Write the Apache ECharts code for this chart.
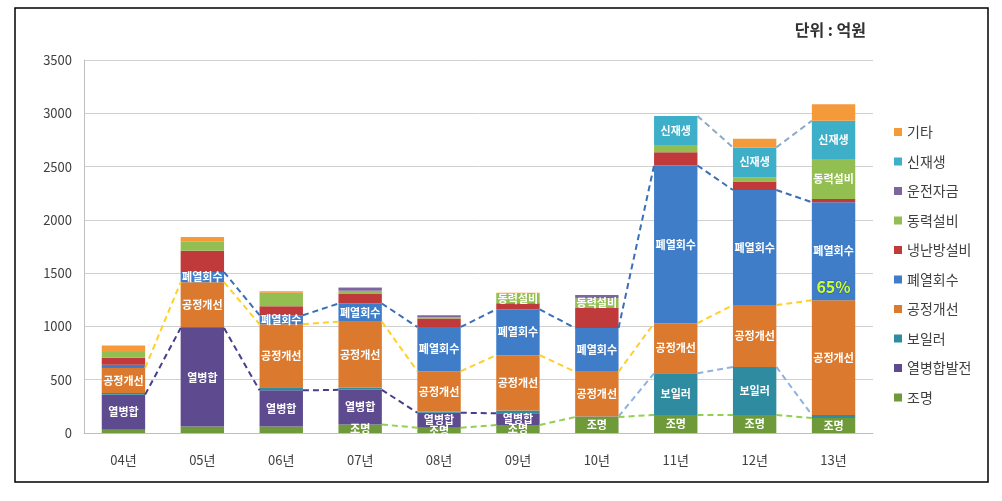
<!DOCTYPE html>
<html><head><meta charset="utf-8">
<script src="https://cdn.jsdelivr.net/npm/echarts@6/dist/echarts.min.js"></script>
<style>html,body{margin:0;padding:0;background:#fff}#c{width:1002px;height:501px}</style>
</head><body><div id="c"></div>
<script>
const categories = ['04년','05년','06년','07년','08년','09년','10년','11년','12년','13년'];
const 조명 =      [30, 60, 60, 80, 50, 75, 150, 170, 170, 140];
const 열병합발전 = [330, 925, 340, 325, 140, 110, 0, 0, 0, 0];
const 보일러 =    [15, 10, 30, 20, 10, 25, 5, 390, 450, 30];
const 공정개선 =  [235, 420, 590, 620, 380, 520, 420, 470, 580, 1075];
const 폐열회수 =  [30, 95, 85, 170, 415, 430, 410, 1480, 1080, 920];
const 냉난방설비 = [65, 200, 85, 90, 80, 58, 187, 125, 80, 30];
const 동력설비 =  [55, 85, 125, 30, 10, 87, 93, 60, 40, 375];
const 운전자금 =  [0, 0, 0, 25, 20, 0, 30, 0, 0, 0];
const 신재생 =    [0, 0, 0, 0, 0, 0, 0, 280, 280, 360];
const 기타 =      [60, 45, 15, 8, 0, 10, 0, 0, 80, 155];
const yTicks = [0, 500, 1000, 1500, 2000, 2500, 3000, 3500];
const unitText = '단위 : 억원';
const noteText = '65%';
const noteIndex = 9;

const seriesDefs = [
  {name:'조명', data:조명, color:'#6E9A3A', short:'조명', labels:[3,4,5,6,7,8,9]},
  {name:'열병합발전', data:열병합발전, color:'#5E4A8E', short:'열병합', labels:[0,1,2,3,4,5]},
  {name:'보일러', data:보일러, color:'#2E8BA0', short:'보일러', labels:[7,8]},
  {name:'공정개선', data:공정개선, color:'#DB7A2E', short:'공정개선', labels:[0,1,2,3,4,5,6,7,8,9]},
  {name:'폐열회수', data:폐열회수, color:'#3F7DC8', short:'폐열회수', labels:[1,2,3,4,5,6,7,8,9]},
  {name:'냉난방설비', data:냉난방설비, color:'#C0393B', short:'냉난방설비', labels:[]},
  {name:'동력설비', data:동력설비, color:'#93BF52', short:'동력설비', labels:[5,6,9]},
  {name:'운전자금', data:운전자금, color:'#8064A2', short:'운전자금', labels:[]},
  {name:'신재생', data:신재생, color:'#3DAFC8', short:'신재생', labels:[7,8,9]},
  {name:'기타', data:기타, color:'#F59A3A', short:'기타', labels:[]}
];
const connectors = [
  {s:1, from:0, to:5, color:'#4B3C8C'},
  {s:3, from:0, to:9, color:'#FFD02A'},
  {s:4, from:1, to:9, color:'#3A6FB8'},
  {s:0, from:3, to:9, color:'#92D050'},
  {s:2, from:6, to:9, color:'#8DB3E2'},
  {s:8, from:7, to:9, color:'#8EA9C8'}
];
const BAR_RATIO = 0.55;

const cum = [];
seriesDefs.forEach((d, s) => {
  cum[s] = d.data.map((v, i) => v + (s > 0 ? cum[s-1][i] : 0));
});

const FONT = '"Noto Sans CJK KR", "Noto Sans", sans-serif';
const series = [];
seriesDefs.forEach((d, s) => {
  series.push({
    name: d.name, type: 'bar', stack: 'total', barWidth: (BAR_RATIO*100)+'%',
    itemStyle: {color: d.color},
    data: d.data.map((v, i) => {
      const show = d.labels.indexOf(i) >= 0;
      const item = {value: v, label: {show: show}};
      if (show && d.name === '폐열회수' && i === noteIndex) {
        item.label = {
          show: true,
          formatter: '{sp|}\n{a|' + d.short + '}\n{b|' + noteText + '}',
          rich: {
            sp: {height: 58, lineHeight: 58},
            a: {color: '#fff', fontSize: 11, fontWeight: 'bold', fontFamily: FONT, lineHeight: 14},
            b: {color: '#CCFF33', fontSize: 16, fontWeight: 'bold', fontFamily: FONT, height: 58, lineHeight: 58,
                textBorderColor: '#2c5f9e', textBorderWidth: 1}
          }
        };
      }
      return item;
    }),
    label: {
      position: 'inside', color: '#fff', fontSize: 11, fontWeight: 'bold', fontFamily: FONT,
      formatter: () => d.short
    }
  });
});

connectors.forEach(c => {
  const data = [];
  for (let i = c.from; i < c.to; i++) data.push([i, cum[c.s][i], cum[c.s][i+1]]);
  series.push({
    type: 'custom', name: 'line-' + seriesDefs[c.s].name, silent: true, z: 3,
    encode: {x: 0, y: [1, 2]},
    data: data,
    renderItem: (params, api) => {
      const i = api.value(0);
      const p1 = api.coord([i, api.value(1)]);
      const p2 = api.coord([i + 1, api.value(2)]);
      const half = api.size([1, 0])[0] * BAR_RATIO / 2;
      return {
        type: 'line',
        shape: {x1: p1[0] + half, y1: p1[1], x2: p2[0] - half, y2: p2[1]},
        style: {stroke: c.color, lineWidth: 2, lineDash: [6, 4], fill: null}
      };
    }
  });
});

const chart = echarts.init(document.getElementById('c'));
chart.setOption({
  animation: false,
  backgroundColor: '#fff',
  textStyle: {fontFamily: FONT},
  graphic: [{type: 'rect', shape: {x: 15, y: 8, width: 973, height: 474},
             style: {fill: null, stroke: '#000', lineWidth: 1.5}, silent: true}],
  title: {text: unitText, right: 131, top: 17,
          textStyle: {fontSize: 16, fontWeight: 'bold', color: '#333', fontFamily: FONT}},
  legend: {
    orient: 'vertical', left: 889, top: 119, itemWidth: 8, itemHeight: 8, itemGap: 13.5,
    icon: 'rect',
    data: seriesDefs.map(d => d.name).reverse(),
    textStyle: {fontSize: 14, color: '#404040', lineHeight: 16, fontFamily: FONT}
  },
  grid: {left: 84, right: 129, top: 60, bottom: 68},
  xAxis: {
    type: 'category', data: categories,
    axisLine: {show: true, lineStyle: {color: '#BFBFBF'}},
    axisTick: {show: false},
    axisLabel: {color: '#404040', fontSize: 13, margin: 21, fontFamily: FONT}
  },
  yAxis: {
    type: 'value', min: yTicks[0], max: yTicks[yTicks.length-1], interval: yTicks[1]-yTicks[0],
    axisLine: {show: true, lineStyle: {color: '#BFBFBF'}},
    axisTick: {show: false},
    axisLabel: {color: '#404040', fontSize: 13, margin: 12, fontFamily: FONT, formatter: v => String(v)},
    splitLine: {lineStyle: {color: '#D0D0D0'}}
  },
  series: series
});
</script></body></html>
